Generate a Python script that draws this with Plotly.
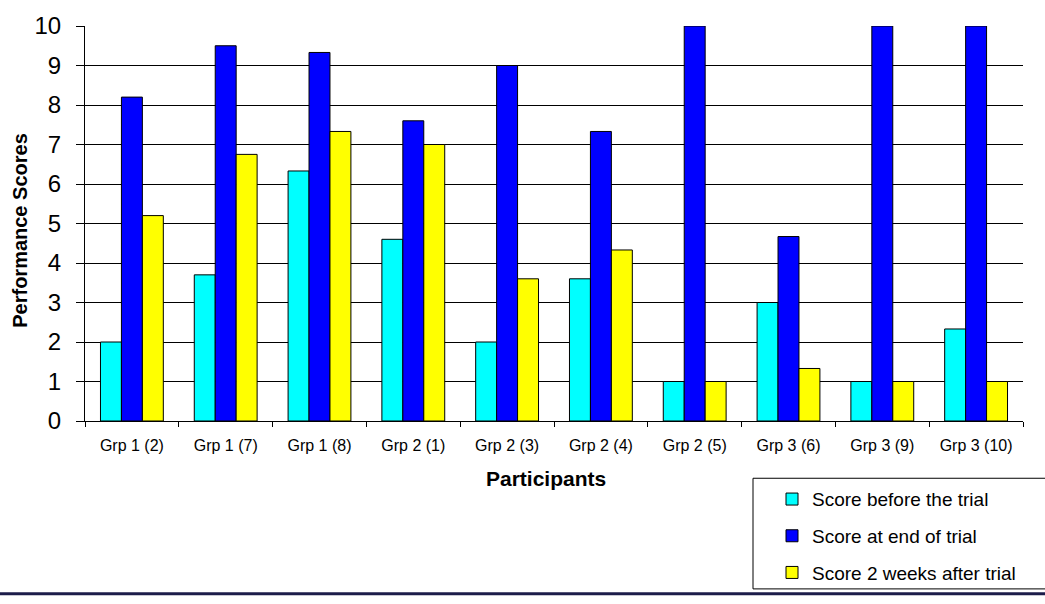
import plotly.graph_objects as go

participants = ["Grp 1 (2)", "Grp 1 (7)", "Grp 1 (8)", "Grp 2 (1)", "Grp 2 (3)",
                "Grp 2 (4)", "Grp 2 (5)", "Grp 3 (6)", "Grp 3 (9)", "Grp 3 (10)"]
score_before = [2, 3.7, 6.33, 4.6, 2, 3.6, 1, 3, 1, 2.33]
score_end = [8.2, 9.5, 9.33, 7.6, 9, 7.33, 10, 4.67, 10, 10]
score_after = [5.2, 6.75, 7.33, 7, 3.6, 4.33, 1, 1.33, 1, 1]

series_names = ["Score before the trial", "Score at end of trial", "Score 2 weeks after trial"]
series_colors = ["#00FFFF", "#0000FF", "#FFFF00"]
y_ticks = list(range(0, 11))

FONT = "Liberation Sans, Arial, sans-serif"

W, H = 1045, 604
ML, MR, MT, MB = 85, 22, 17, 180
PW = W - ML - MR
PH = H - MT - MB


def px(x):
    return (x - ML) / PW


def py(y):
    return (H - MB - y) / PH


fig = go.Figure()
for i, (name, vals, col) in enumerate(zip(series_names, [score_before, score_end, score_after], series_colors)):
    fig.add_trace(go.Bar(
        x=participants, y=vals, name=name, legendgroup=f"g{i}",
        marker=dict(color=col, line=dict(color="black", width=1)),
    ))

fig.update_layout(
    width=W, height=H,
    margin=dict(l=ML, r=MR, t=MT, b=MB, pad=0),
    paper_bgcolor="white", plot_bgcolor="white",
    barmode="group", bargap=0.33, bargroupgap=0,
    font=dict(family=FONT, color="black"),
    showlegend=True,
    legend=dict(
        x=px(772), y=py(485), xanchor="left", yanchor="top",
        font=dict(family=FONT, size=19, color="black"),
        bgcolor="rgba(0,0,0,0)", borderwidth=0,
        traceorder="grouped", tracegroupgap=9,
    ),
    xaxis=dict(
        type="category", tickson="boundaries", ticks="outside", ticklen=5,
        tickcolor="black", showline=True, linecolor="black", linewidth=1,
        mirror=False, showgrid=False,
        tickfont=dict(family=FONT, size=16, color="black"),
        ticklabelstandoff=10,
    ),
    yaxis=dict(
        range=[0, 10], tickvals=y_ticks, ticks="outside", ticklen=8,
        tickcolor="black", showline=True, linecolor="black", linewidth=1,
        showgrid=True, gridcolor="black", gridwidth=1, zeroline=False,
        tickfont=dict(family=FONT, size=24, color="black"),
        ticklabelstandoff=10,
    ),
    annotations=[
        dict(text="<b>Participants</b>", xref="paper", yref="paper",
             x=px(546), y=py(483), xanchor="center", yanchor="middle",
             showarrow=False, font=dict(family=FONT, size=21, color="black")),
        dict(text="<b>Performance Scores</b>", xref="paper", yref="paper",
             x=px(20), y=py(228), xanchor="center", yanchor="middle", textangle=-90,
             showarrow=False, font=dict(family=FONT, size=20, color="black")),
    ],
    shapes=[
        dict(type="rect", xref="paper", yref="paper",
             x0=px(753), x1=px(1052), y0=py(597), y1=py(483),
             line=dict(color="black", width=1), fillcolor="rgba(0,0,0,0)", layer="below"),
        dict(type="line", xref="paper", yref="paper",
             x0=px(0), x1=px(1045), y0=py(602), y1=py(602),
             line=dict(color="#1c1c4a", width=3)),
    ],
)

fig.write_html("out.html")
